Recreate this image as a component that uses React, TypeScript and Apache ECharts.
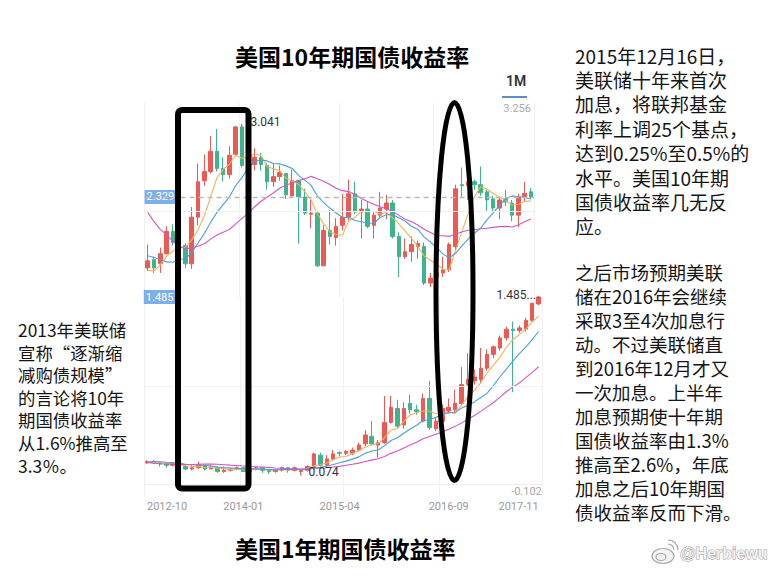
import React, { useEffect, useRef } from 'react';
import * as echarts from 'echarts';

const months = [
  '2012-10','2012-11','2012-12','2013-01','2013-02','2013-03','2013-04','2013-05','2013-06','2013-07',
  '2013-08','2013-09','2013-10','2013-11','2013-12','2014-01','2014-02','2014-03','2014-04','2014-05',
  '2014-06','2014-07','2014-08','2014-09','2014-10','2014-11','2014-12','2015-01','2015-02','2015-03',
  '2015-04','2015-05','2015-06','2015-07','2015-08','2015-09','2015-10','2015-11','2015-12','2016-01',
  '2016-02','2016-03','2016-04','2016-05','2016-06','2016-07','2016-08','2016-09','2016-10','2016-11',
  '2016-12','2017-01','2017-02','2017-03','2017-04','2017-05','2017-06','2017-07','2017-08','2017-09',
  '2017-10','2017-11'
];
const tickLabels = ['2012-10', '2014-01', '2015-04', '2016-09', '2017-11'];

// US 10Y treasury yield, monthly candles
const tenOpen = [1.63,1.71,1.67,1.77,1.99,1.88,1.85,1.67,2.13,2.49, 2.58,2.78,2.61,2.55,2.75,3.02,2.64,2.65,2.72,2.64, 2.48,2.53,2.56,2.34,2.49,2.33,2.16,2.17,1.65,2.00, 1.93,2.05,2.13,2.36,2.18,2.21,2.05,2.15,2.21,2.27, 1.94,1.74,1.79,1.84,1.84,1.48,1.54,1.58,1.61,1.84, 2.45,2.44,2.48,2.45,2.38,2.31,2.22,2.31,2.27,2.15, 2.33,2.38];
const tenClose = [1.70,1.63,1.77,1.99,1.88,1.86,1.67,2.13,2.48,2.58, 2.78,2.61,2.55,2.74,3.02,2.64,2.66,2.72,2.65,2.48, 2.53,2.57,2.35,2.49,2.33,2.17,2.17,1.65,2.00,1.94, 2.04,2.13,2.36,2.18,2.21,2.04,2.15,2.22,2.27,1.94, 1.74,1.79,1.86,1.87,1.48,1.53,1.59,1.61,1.86,2.41, 2.44,2.48,2.45,2.37,2.30,2.22,2.30,2.28,2.15,2.33, 2.365,2.329];
const tenLow = [1.60,1.58,1.58,1.76,1.85,1.83,1.63,1.62,2.05,2.44, 2.56,2.58,2.48,2.51,2.74,2.62,2.58,2.59,2.59,2.40, 2.43,2.49,2.31,2.33,1.87,2.15,2.02,1.64,1.65,1.86, 1.85,2.00,2.10,2.16,1.92,2.02,1.92,2.13,2.11,1.92, 1.54,1.72,1.69,1.72,1.46,1.44,1.52,1.54,1.59,1.80, 2.33,2.30,2.40,2.34,2.18,2.18,2.11,2.24,2.09,2.03, 2.28,2.31];
const tenHigh = [1.86,1.74,1.83,2.04,2.06,2.00,1.87,2.23,2.66,2.75, 2.93,3.00,2.72,2.83,3.03,3.041,2.78,2.81,2.76,2.66, 2.66,2.64,2.56,2.60,2.49,2.41,2.30,2.18,2.05,2.20, 2.12,2.36,2.50,2.48,2.30,2.29,2.18,2.38,2.35,2.30, 1.98,1.92,1.94,1.90,1.88,1.58,1.66,1.74,1.88,2.45, 2.62,2.59,2.50,2.63,2.40,2.34,2.32,2.40,2.30,2.36, 2.48,2.42];
// closes of the 19 months before the window (for the moving averages)
const tenPriorCloses = [3.47,3.29,3.06,3.16,2.80,2.23,1.92,2.17,2.07,1.88,1.80,1.98,2.22,1.92,1.56,1.65,1.47,1.57,1.63];

// US 1Y treasury yield, monthly candles
const oneOpen = [0.17,0.18,0.17,0.16,0.15,0.16,0.14,0.12,0.13,0.15, 0.12,0.13,0.10,0.11,0.12,0.13,0.10,0.12,0.13,0.11, 0.10,0.11,0.13,0.11,0.10,0.11,0.14,0.23,0.15,0.20, 0.25,0.245,0.245,0.27,0.32,0.38,0.31,0.33,0.49,0.60, 0.47,0.64,0.59,0.50,0.68,0.44,0.50,0.58,0.59,0.64, 0.79,0.82,0.83,0.92,1.03,1.08,1.16,1.23,1.22,1.23, 1.30,1.43];
const oneClose = [0.18,0.17,0.16,0.15,0.16,0.14,0.12,0.13,0.15,0.12, 0.13,0.10,0.11,0.12,0.13,0.10,0.12,0.13,0.11,0.10, 0.11,0.13,0.11,0.13,0.11,0.14,0.24,0.15,0.20,0.24, 0.245,0.26,0.27,0.31,0.39,0.32,0.33,0.49,0.61,0.46, 0.60,0.59,0.575,0.68,0.45,0.50,0.60,0.61,0.64,0.79, 0.83,0.85,0.92,1.03,1.09,1.16,1.23,1.22,1.24,1.30, 1.435,1.485];
const oneLow = [0.16,0.16,0.14,0.13,0.14,0.13,0.11,0.11,0.12,0.11, 0.12,0.09,0.09,0.10,0.11,0.10,0.09,0.11,0.09,0.08, 0.09,0.10,0.09,0.10,0.074,0.10,0.13,0.14,0.14,0.19, 0.22,0.23,0.23,0.26,0.30,0.31,0.21,0.32,0.48,0.44, 0.44,0.56,0.55,0.49,0.43,0.42,0.49,0.56,0.57,0.63, 0.77,0.79,0.80,0.90,1.00,1.06,1.14,0.73,1.20,1.21, 1.29,1.42];
const oneHigh = [0.19,0.19,0.18,0.17,0.17,0.16,0.15,0.15,0.18,0.15, 0.15,0.14,0.14,0.13,0.14,0.13,0.13,0.14,0.13,0.11, 0.12,0.14,0.13,0.14,0.12,0.15,0.25,0.25,0.23,0.27, 0.26,0.27,0.29,0.33,0.43,0.50,0.35,0.70,0.70,0.67, 0.65,0.71,0.63,0.72,0.82,0.53,0.63,0.68,0.75,0.93, 1.04,0.91,1.08,1.07,1.10,1.18,1.25,1.29,1.26,1.32, 1.44,1.485];
const onePriorCloses = [0.30,0.25,0.18,0.19,0.20,0.11,0.13,0.11,0.11,0.12,0.13,0.17,0.19,0.18,0.19,0.21,0.16,0.17,0.17];

const tenLast = 2.329;
const tenAxisMax = 3.256;
const tenMaxHigh = 3.041;
const oneLast = 1.485;
const oneAxisMin = -0.102;
const oneMinLow = 0.074;
const oneMaxHigh = 1.485;

const maPeriods = [5, 10, 20];
const maColors = ['#f3b25a', '#4aa1d4', '#d455c8'];

const title10 = '美国10年期国债收益率';
const title1 = '美国1年期国债收益率';
const noteTopRight = ['2015年12月16日，', '美联储十年来首次', '加息，将联邦基金', '利率上调25个基点，', '达到0.25%至0.5%的', '水平。美国10年期', '国债收益率几无反', '应。'];
const noteBottomRight = ['之后市场预期美联', '储在2016年会继续', '采取3至4次加息行', '动。不过美联储直', '到2016年12月才又', '一次加息。上半年', '加息预期使十年期', '国债收益率由1.3%', '推高至2.6%，年底', '加息之后10年期国', '债收益率反而下滑。'];
const noteLeft = ['2013年美联储', '宣称“逐渐缩', '减购债规模”', '的言论将10年', '期国债收益率', '从1.6%推高至', '3.3％。'];

function movingAverage(prior: number[], closes: number[], n: number): number[] {
  const all = prior.concat(closes);
  return closes.map((_, i) => {
    const end = prior.length + i;
    let s = 0;
    for (let k = end - n + 1; k <= end; k++) s += all[k];
    return +(s / n).toFixed(4);
  });
}

const RED = '#ec5a55';
const GREEN = '#3cb48e';
const FONT = 'Roboto, "Noto Sans", sans-serif';
const CJK = '"Noto Sans CJK SC", sans-serif';

export default function App() {
  const ref = useRef<HTMLDivElement>(null);
  useEffect(() => {
    if (!ref.current) return;
    const chart = echarts.init(ref.current, undefined, { renderer: 'svg' });

    const tenCandles = months.map((_, i) => [tenOpen[i], tenClose[i], tenLow[i], tenHigh[i]]);
    const oneCandles = months.map((_, i) => [oneOpen[i], oneClose[i], oneLow[i], oneHigh[i]]);
    const tenMin = tenAxisMax - (194 / 101.4);
    const splitIdx = [15, 31, 46];

    const candleStyle = { color: RED, color0: GREEN, borderColor: RED, borderColor0: GREEN, borderWidth: 1 };
    const faint = { type: 'solid', color: '#f1f1f1', width: 1 };

    const maSeries = (prior: number[], closes: number[], xi: number, yi: number) =>
      maPeriods.map((p, k) => ({
        type: 'line', name: 'MA' + p, xAxisIndex: xi, yAxisIndex: yi,
        data: movingAverage(prior, closes, p), showSymbol: false, symbol: 'none',
        lineStyle: { width: 1.1, color: maColors[k] }, silent: true, z: 3,
      }));

    const noteLines = (lines: string[], x: number, firstCenter: number, lh: number, size: number) =>
      lines.map((t, i) => ({
        type: 'text', x, y: firstCenter + i * lh, z: 50,
        style: { text: t, font: size + 'px "Noto Sans CJK SC", sans-serif', fill: '#151515', verticalAlign: 'middle' },
      }));

    const option: any = {
      animation: false,
      textStyle: { fontFamily: FONT },
      title: [
        { text: title10, left: 235, top: 42, padding: 0, textStyle: { fontSize: 23, fontWeight: 'bold', color: '#000', fontFamily: CJK, lineHeight: 28 } },
        { text: title1, left: 235, top: 534, padding: 0, textStyle: { fontSize: 23, fontWeight: 'bold', color: '#000', fontFamily: CJK, lineHeight: 28 } },
      ],
      grid: [
        { left: 144.6, top: 103, width: 389.4, height: 194 },
        { left: 143.8, top: 297, width: 398, height: 200 },
      ],
      xAxis: [
        {
          type: 'category', gridIndex: 0, data: months, boundaryGap: true,
          axisLine: { show: false }, axisTick: { show: false }, axisLabel: { show: false },
          splitLine: { show: true, interval: (i: number) => splitIdx.includes(i), lineStyle: { color: '#f1f1f1' } },
        },
        {
          type: 'category', gridIndex: 1, data: months, boundaryGap: true,
          axisLine: { show: true, lineStyle: { color: '#eeeeee' } }, axisTick: { show: false },
          splitLine: { show: true, interval: (i: number) => splitIdx.includes(i), lineStyle: { color: '#f1f1f1' } },
          axisLabel: {
            interval: (i: number, v: string) => tickLabels.includes(v),
            color: '#9a9a9a', fontSize: 11, margin: 4, fontFamily: FONT,
            alignMinLabel: 'left', alignMaxLabel: 'right',
          },
        },
      ],
      yAxis: [
        {
          type: 'value', gridIndex: 0, min: tenMin, max: tenAxisMax, position: 'left', scale: true,
          axisLine: { show: true, lineStyle: { color: '#efefef' } }, axisTick: { show: false }, splitLine: { show: false },
          axisLabel: { inside: true, margin: 0, customValues: [tenLast], formatter: (v: number) => v.toFixed(3), color: '#fff', backgroundColor: '#7cb0ec', padding: [2, 2, 1, 2], fontSize: 11 },
        },
        {
          type: 'value', gridIndex: 0, min: tenMin, max: tenAxisMax, position: 'right', scale: true,
          axisLine: { show: false }, axisTick: { show: false }, splitLine: { show: false },
          axisLabel: { inside: true, margin: 3, customValues: [tenAxisMax], formatter: (v: number) => v.toFixed(3), color: '#aaaaaa', fontSize: 11, verticalAlign: 'top' },
        },
        {
          type: 'value', gridIndex: 1, min: oneAxisMin, max: oneLast, position: 'left', scale: true,
          axisLine: { show: true, lineStyle: { color: '#efefef' } }, axisTick: { show: false }, splitLine: { show: false },
          axisLabel: { inside: true, margin: 0, customValues: [oneLast], formatter: (v: number) => v.toFixed(3), color: '#fff', backgroundColor: '#7cb0ec', padding: [2, 2, 1, 2], fontSize: 11 },
        },
        {
          type: 'value', gridIndex: 1, min: oneAxisMin, max: oneLast, position: 'right', scale: true,
          axisLine: { show: false }, axisTick: { show: false }, splitLine: { show: false },
          axisLabel: { inside: true, margin: 0, customValues: [oneAxisMin], formatter: (v: number) => v.toFixed(3), color: '#aaaaaa', fontSize: 11, verticalAlign: 'bottom' },
        },
      ],
      series: [
        {
          type: 'candlestick', name: '10Y', xAxisIndex: 0, yAxisIndex: 0, data: tenCandles, barWidth: 4,
          itemStyle: candleStyle, z: 2,
          markLine: {
            silent: true, symbol: ['none', 'none'], label: { show: false }, animation: false,
            data: [
              { yAxis: tenLast, lineStyle: { type: [5, 4], color: '#b9b9b9', width: 1.3 } },
              { yAxis: 2.191, lineStyle: faint },
              { yAxis: tenAxisMax, lineStyle: faint },
            ],
          },
          markPoint: {
            symbol: 'circle', symbolSize: 1, itemStyle: { color: '#333' }, animation: false,
            label: { show: true, position: 'right', distance: 8, offset: [0, -3], color: '#333', fontSize: 12, formatter: () => tenMaxHigh.toFixed(3) },
            data: [{ coord: [months[15], tenMaxHigh] }],
          },
        },
        ...maSeries(tenPriorCloses, tenClose, 0, 0),
        {
          type: 'candlestick', name: '1Y', xAxisIndex: 1, yAxisIndex: 2, data: oneCandles, barWidth: 4,
          itemStyle: candleStyle, z: 2,
          markLine: {
            silent: true, symbol: ['none', 'none'], label: { show: false }, animation: false,
            data: [
              { yAxis: oneLast, lineStyle: { type: [5, 4], color: '#a9c3d6', width: 1.3 } },
              { yAxis: 0.779, lineStyle: faint },
            ],
          },
          markPoint: {
            symbol: 'circle', symbolSize: 1, itemStyle: { color: '#333' }, animation: false,
            data: [
              { coord: [months[24], oneMinLow], label: { show: true, position: 'right', distance: 7, offset: [0, -3], color: '#333', fontSize: 12, formatter: () => oneMinLow.toFixed(3) } },
              { coord: [months[61], oneMaxHigh], label: { show: true, position: 'left', distance: 2, offset: [0, -2], color: '#333', fontSize: 12, formatter: () => oneMaxHigh.toFixed(3) + '...' } },
            ],
          },
        },
        ...maSeries(onePriorCloses, oneClose, 1, 2),
      ],
      graphic: [
        { type: 'text', x: 506, y: 74, z: 50, style: { text: '1M', font: '600 14px Roboto, sans-serif', fill: '#333' } },
        { type: 'rect', z: 50, shape: { x: 502, y: 96, width: 25, height: 2 }, style: { fill: '#5b8ec6' } },
        ...noteLines(noteTopRight, 575, 55, 24.4, 19),
        ...noteLines(noteBottomRight, 575, 272, 24, 18.5),
        ...noteLines(noteLeft, 18, 329.5, 22.6, 17.4),
        { type: 'rect', z: 100, shape: { x: 178, y: 110, width: 70.5, height: 378.5, r: 4 }, style: { fill: 'none', stroke: '#000', lineWidth: 6 } },
        { type: 'ellipse', z: 100, shape: { cx: 454.5, cy: 291.5, rx: 18.5, ry: 189 }, style: { fill: 'none', stroke: '#000', lineWidth: 5 } },
        // watermark
        { type: 'ellipse', z: 50, shape: { cx: 663, cy: 556, rx: 11, ry: 7.5 }, style: { fill: '#f4f4f4', stroke: '#a5a5a5', lineWidth: 1.2 } },
        { type: 'ellipse', z: 51, shape: { cx: 661, cy: 557, rx: 5, ry: 3.5 }, style: { fill: 'none', stroke: '#a5a5a5', lineWidth: 1.2 } },
        { type: 'arc', z: 51, shape: { cx: 668, cy: 550, r: 6, startAngle: -Math.PI / 2, endAngle: 0 }, style: { fill: 'none', stroke: '#a5a5a5', lineWidth: 1.2 } },
        { type: 'arc', z: 51, shape: { cx: 668, cy: 550, r: 10, startAngle: -Math.PI / 2, endAngle: 0 }, style: { fill: 'none', stroke: '#a5a5a5', lineWidth: 1.2 } },
        { type: 'text', x: 680, y: 545, z: 50, style: { text: '@Herbiewu', font: 'bold 16px "Liberation Sans", Arial, sans-serif', fill: '#f2f2f2', stroke: '#a0a0a0', lineWidth: 1 } },
      ],
    };
    chart.setOption(option);
    return () => chart.dispose();
  }, []);

  return (
    <div style={{ position: 'absolute', left: 0, top: 0, width: 771, height: 575, background: '#fff' }}>
      <div ref={ref} style={{ width: 771, height: 575 }} />
    </div>
  );
}
